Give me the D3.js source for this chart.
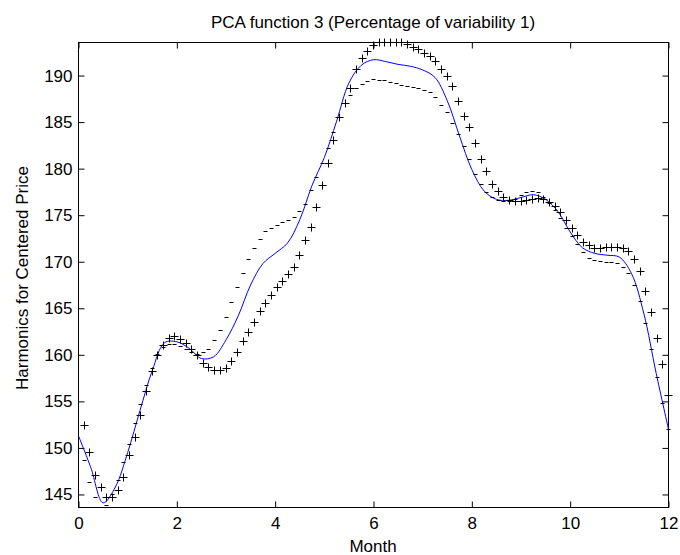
<!DOCTYPE html>
<html>
<head>
<meta charset="utf-8">
<script src="https://cdn.jsdelivr.net/npm/d3@7/dist/d3.min.js"></script>
<style>
	body { margin: 0; background: #fff; }
	text { font-family: "Liberation Sans", Arial, sans-serif; font-size: 17px; fill: #000; }
	.tick line { stroke: #000; }
</style>
</head>
<body>
<svg id="chart" width="680" height="555"></svg>
<script>
// chart texts and ticks
const chartTitle = 'PCA function 3 (Percentage of variability 1)';
const xLabel = 'Month';
const yLabel = 'Harmonics for Centered Price';
const xTicks = [0, 2, 4, 6, 8, 10, 12];
const yTicks = [145, 150, 155, 160, 165, 170, 175, 180, 185, 190];

// observed points ("+"), one every 12/104 month
const observed = [
	152.4, 149.5, 147.0, 145.8, 144.7, 144.7, 145.4, 146.8, 149.2, 151.1,
	153.5, 156.1, 158.2, 159.9, 161.0, 161.8, 162.0, 161.7, 161.2, 160.6,
	159.9, 159.1, 158.6, 158.3, 158.3, 158.5, 159.3, 160.3, 161.4, 162.4,
	163.5, 164.7, 165.5, 166.4, 167.2, 167.9, 168.6, 169.4, 170.7, 172.3,
	173.7, 175.8, 178.2, 180.6, 183.0, 185.5, 187.0, 188.6, 190.6, 191.8,
	192.6, 193.2, 193.5, 193.5, 193.5, 193.5, 193.5, 193.3, 193.0, 192.8,
	192.4, 192.0, 191.5, 190.7, 189.9, 188.8, 187.2, 185.6, 184.4, 182.7,
	181.0, 179.7, 178.3, 177.5, 176.9, 176.6, 176.5, 176.5, 176.6, 176.7,
	176.8, 176.7, 176.4, 175.9, 175.3, 174.4, 173.6, 172.8, 172.1, 171.7,
	171.4, 171.4, 171.5, 171.5, 171.5, 171.4, 171.1, 170.2, 168.9, 166.8,
	164.6, 161.8, 159.0, 155.6
];

// second fit, drawn as short dashes at the same months
const dashed = [
	148.6, 146.3, 144.7, 143.6, 143.8, 145.0, 146.5, 148.4, 150.4, 152.6,
	154.7, 156.7, 158.5, 160.0, 160.8, 161.1, 161.1, 160.9, 160.6, 160.3,
	160.0, 160.2, 160.6, 161.5, 162.6, 164.0, 165.6, 167.2, 168.7, 170.2,
	171.4, 172.4, 173.2, 173.6, 173.9, 174.2, 174.4, 174.7, 175.4, 176.1,
	177.6, 179.0, 180.5, 182.2, 183.9, 185.5, 187.0, 187.9, 188.6, 189.0,
	189.4, 189.6, 189.5, 189.5, 189.3, 189.1, 188.9, 188.8, 188.7, 188.6,
	188.4, 188.2, 187.6, 186.8, 186.0, 184.9, 183.7, 182.4, 181.0, 179.4,
	178.3, 177.4, 176.9, 176.6, 176.5, 176.5, 176.7, 177.1, 177.4, 177.5,
	177.4, 176.9, 176.3, 175.5, 174.6, 173.6, 172.7, 171.8, 171.0, 170.4,
	170.1, 170.0, 169.9, 169.9, 169.8, 169.4, 168.7, 167.4, 165.7, 163.4,
	160.6, 157.6, 154.8, 152.0
];

// blue harmonic curve
const blueMonths = [
	0, 0.25, 0.5, 0.75, 1, 1.25, 1.5, 1.75, 2, 2.25, 2.5, 2.75, 3, 3.25, 3.5, 3.75,
	4, 4.25, 4.5, 4.75, 5, 5.25, 5.5, 5.75, 6, 6.25, 6.5, 6.75, 7, 7.25, 7.5, 7.75,
	8, 8.25, 8.5, 8.75, 9, 9.25, 9.5, 9.75, 10, 10.25, 10.5, 10.75, 11, 11.25, 11.5, 11.75, 12
];
const blueValues = [
	151.3, 147.9, 144.1, 145.8, 149.5, 154.0, 158.3, 161.3, 161.4, 160.7, 159.6, 159.8, 161.6, 164.2, 167.5, 169.8,
	170.9, 172.0, 174.5, 178.2, 181.2, 185.1, 189.2, 191.1, 191.7, 191.5, 191.2, 191.0, 190.6, 189.8, 187.3, 183.5,
	179.9, 177.6, 176.7, 176.6, 176.9, 177.2, 176.7, 175.4, 173.2, 171.5, 170.9, 170.7, 170.5, 168.7, 164.4, 158.0, 152.0
];

const width = 590;
const height = 465;
const margin = {top: 42, left: 78};

const sampleMonths = observed.map((d, i) => 12 * (i + 1) / observed.length);

const svg = d3.select('#chart');
const g = svg.append('g')
	.attr('transform', `translate(${margin.left + 0.5}, ${margin.top + 0.5})`);

const xScale = d3.scaleLinear().domain([0, 12]).range([0, width]);
const yScale = d3.scaleLinear().domain([143.6, 193.55]).range([height, 0]);

// axes, ticks pointing inward on all four sides
g.append('g')
	.attr('transform', `translate(0, ${height})`)
	.call(d3.axisBottom(xScale).tickValues(xTicks).tickSize(-6).tickSizeOuter(0).tickPadding(9))
	.call(a => a.select('.domain').remove());
g.append('g')
	.call(d3.axisTop(xScale).tickValues(xTicks).tickSize(-6).tickSizeOuter(0).tickFormat(''))
	.call(a => a.select('.domain').remove());
g.append('g')
	.call(d3.axisLeft(yScale).tickValues(yTicks).tickSize(-6).tickSizeOuter(0).tickPadding(6))
	.call(a => a.select('.domain').remove());
g.append('g')
	.attr('transform', `translate(${width}, 0)`)
	.call(d3.axisRight(yScale).tickValues(yTicks).tickSize(-6).tickSizeOuter(0).tickFormat(''))
	.call(a => a.select('.domain').remove());

g.selectAll('.tick text')
	.style('font-family', '"Liberation Sans", Arial, sans-serif')
	.style('font-size', '17px')
	.attr('fill', '#000');

g.append('rect')
	.attr('width', width)
	.attr('height', height)
	.attr('fill', 'none')
	.attr('stroke', '#000');

// blue curve
const line = d3.line()
	.curve(d3.curveCatmullRom)
	.x(d => xScale(d[0]))
	.y(d => yScale(d[1]));

g.append('path')
	.datum(blueMonths.map((m, i) => [m, blueValues[i]]))
	.attr('d', line)
	.attr('fill', 'none')
	.attr('stroke', '#0000ff')
	.attr('stroke-width', 1);

// dashes
g.append('g').selectAll('line')
	.data(dashed)
	.join('line')
	.attr('x1', (d, i) => Math.round(xScale(sampleMonths[i])) - 2)
	.attr('x2', (d, i) => Math.round(xScale(sampleMonths[i])) + 2)
	.attr('y1', d => Math.round(yScale(d)))
	.attr('y2', d => Math.round(yScale(d)))
	.attr('stroke', '#000');

// plus markers
g.append('g').selectAll('path')
	.data(observed)
	.join('path')
	.attr('d', (d, i) => {
		const cx = Math.round(xScale(sampleMonths[i]));
		const cy = Math.round(yScale(d));
		return `M${cx - 4},${cy}H${cx + 4}M${cx},${cy - 4}V${cy + 4}`;
	})
	.attr('fill', 'none')
	.attr('stroke', '#000');

// labels
svg.append('text')
	.attr('x', margin.left + width / 2)
	.attr('y', 28)
	.attr('text-anchor', 'middle')
	.text(chartTitle);

svg.append('text')
	.attr('x', margin.left + width / 2)
	.attr('y', 552)
	.attr('text-anchor', 'middle')
	.text(xLabel);

svg.append('text')
	.attr('transform', 'translate(28, 278) rotate(-90)')
	.attr('text-anchor', 'middle')
	.text(yLabel);
</script>
</body>
</html>
